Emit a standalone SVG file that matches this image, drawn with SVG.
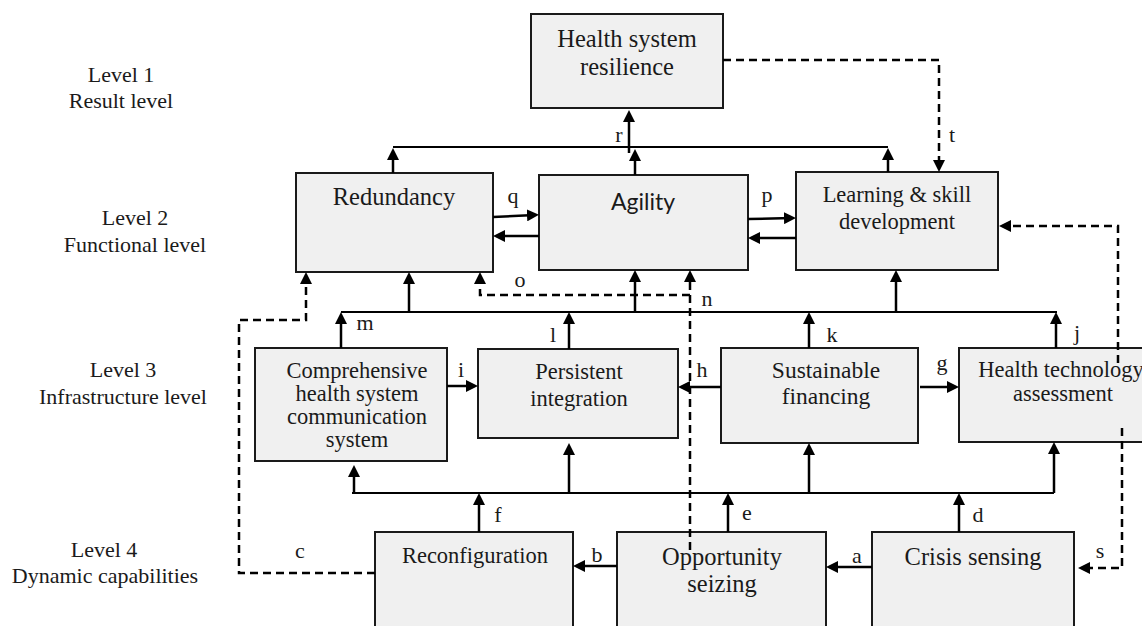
<svg xmlns="http://www.w3.org/2000/svg" width="1142" height="626" viewBox="0 0 1142 626">
<style>
.box{fill:#f0f0f0;stroke:#1a1a1a;stroke-width:2}
.t{font-family:"Liberation Serif","Times New Roman",serif;fill:#1a1a1a;text-anchor:middle}
.lvl{font-size:22px}
.nt{font-size:22.5px}
.big{font-size:24.5px}
.fin{font-size:23.5px}
.sans{font-family:Lato,"Liberation Sans",sans-serif;fill:#1a1a1a;text-anchor:middle;font-size:23px}
.lb{font-size:22px}
.c{fill:none;stroke:#000;stroke-width:2.5;marker-end:url(#ah)}
.bus{fill:none;stroke:#000;stroke-width:2}
.d{fill:none;stroke:#000;stroke-width:2.5;stroke-dasharray:8 5}
.da{marker-end:url(#ah)}
</style>
<defs>
<marker id="ah" markerUnits="userSpaceOnUse" markerWidth="12" markerHeight="12" viewBox="0 0 12 12" refX="8" refY="6" orient="auto">
<path d="M0,0 L12,6 L0,12 z" fill="#000"/>
</marker>
</defs>
<rect width="1142" height="626" fill="#fff"/>
<g id="levels">
<text class="t lvl" x="121" y="82">Level 1</text>
<text class="t lvl" x="121" y="108">Result level</text>
<text class="t lvl" x="135" y="225">Level 2</text>
<text class="t lvl" x="135" y="252">Functional level</text>
<text class="t lvl" x="123" y="377">Level 3</text>
<text class="t lvl" x="123" y="404">Infrastructure level</text>
<text class="t lvl" x="104" y="557">Level 4</text>
<text class="t lvl" x="105" y="583">Dynamic capabilities</text>
</g>
<g id="resilience">
<rect class="box" x="531" y="14" width="192" height="94"/>
<text class="t big" x="627" y="47">Health system</text>
<text class="t big" x="627" y="75">resilience</text>
</g>
<g id="redundancy">
<rect class="box" x="296" y="173" width="197" height="99"/>
<text class="t big" x="394" y="205">Redundancy</text>
</g>
<g id="agility">
<rect class="box" x="539" y="175" width="209" height="95"/>
<text class="sans" x="643" y="210">Agility</text>
</g>
<g id="learning">
<rect class="box" x="796" y="172" width="202" height="98"/>
<text class="t nt" x="897" y="202">Learning &amp; skill</text>
<text class="t nt" x="897" y="229">development</text>
</g>
<g id="communication">
<rect class="box" x="255" y="348" width="192" height="113"/>
<text class="t nt" x="357" y="378">Comprehensive</text>
<text class="t nt" x="357" y="401">health system</text>
<text class="t nt" x="357" y="424">communication</text>
<text class="t nt" x="357" y="447">system</text>
</g>
<g id="integration">
<rect class="box" x="478" y="349" width="200" height="89"/>
<text class="t nt" x="579" y="379">Persistent</text>
<text class="t nt" x="579" y="406">integration</text>
</g>
<g id="financing">
<rect class="box" x="721" y="348" width="197" height="95"/>
<text class="t fin" x="826" y="378">Sustainable</text>
<text class="t fin" x="826" y="404">financing</text>
</g>
<g id="hta">
<rect class="box" x="959" y="348" width="200" height="94"/>
<text class="t nt" x="1061" y="377">Health technology</text>
<text class="t nt" x="1063" y="401">assessment</text>
</g>
<g id="reconfiguration">
<rect class="box" x="375" y="532" width="198" height="110"/>
<text class="t nt" x="475" y="563">Reconfiguration</text>
</g>
<g id="opportunity">
<rect class="box" x="617" y="532" width="209" height="110"/>
<text class="t big" x="722" y="565">Opportunity</text>
<text class="t big" x="722" y="592">seizing</text>
</g>
<g id="crisis">
<rect class="box" x="872" y="532" width="202" height="110"/>
<text class="t big" x="973" y="565">Crisis sensing</text>
</g>
<g id="connectors">
<path class="bus" d="M393,147 H888"/>
<path class="c" d="M629,153 V114"/>
<path class="c" d="M635,175 V153"/>
<path class="c" d="M393,173 V152"/>
<path class="c" d="M888,172 V152"/>
<path class="c" d="M493,217 L535,215"/>
<path class="c" d="M539,236 H497"/>
<path class="c" d="M748,219 L792,218"/>
<path class="c" d="M796,238 H752"/>
<path class="d da" d="M723,60 H939 V168"/>
<path class="d da" d="M1118,363 V226 H1003"/>
<path class="d da" d="M1122,428 V568 H1082"/>
<path class="bus" d="M341,312 H1057"/>
<path class="c" d="M409,312 V276"/>
<path class="c" d="M635,312 V274"/>
<path class="c" d="M896,312 V274"/>
<path class="c" d="M341,348 V316"/>
<path class="c" d="M569,349 V316"/>
<path class="c" d="M809,348 V316"/>
<path class="c" d="M1056,348 V316"/>
<path class="c" d="M447,386 H474"/>
<path class="c" d="M721,387 H682"/>
<path class="c" d="M920,387 H955"/>
<path class="bus" d="M352,493 H1054"/>
<path class="c" d="M1054,493 V446"/>
<path class="c" d="M354,493 V469"/>
<path class="c" d="M569,493 V447"/>
<path class="c" d="M809,493 V447"/>
<path class="c" d="M479,532 V497"/>
<path class="c" d="M728,532 V497"/>
<path class="c" d="M959,532 V497"/>
<path class="c" d="M617,566 H577"/>
<path class="c" d="M872,567 H830"/>
<path class="d da" d="M375,573 H239 V320 H306 V276"/>
<path class="d da" d="M690,550 V274"/>
<path class="d da" d="M690,295 H480 V276"/>
</g>
<g id="labels">
<text class="t lb" x="619" y="142">r</text>
<text class="t lb" x="513" y="203">q</text>
<text class="t lb" x="767" y="202">p</text>
<text class="t lb" x="952" y="142">t</text>
<text class="t lb" x="520" y="287">o</text>
<text class="t lb" x="707" y="306">n</text>
<text class="t lb" x="365" y="330">m</text>
<text class="t lb" x="553" y="342">l</text>
<text class="t lb" x="832" y="342">k</text>
<text class="t lb" x="1077" y="340">j</text>
<text class="t lb" x="461" y="377">i</text>
<text class="t lb" x="702" y="377">h</text>
<text class="t lb" x="942" y="370">g</text>
<text class="t lb" x="498" y="522">f</text>
<text class="t lb" x="747" y="520">e</text>
<text class="t lb" x="978" y="522">d</text>
<text class="t lb" x="300" y="558">c</text>
<text class="t lb" x="597" y="562">b</text>
<text class="t lb" x="857" y="563">a</text>
<text class="t lb" x="1100" y="558">s</text>
</g>
</svg>
